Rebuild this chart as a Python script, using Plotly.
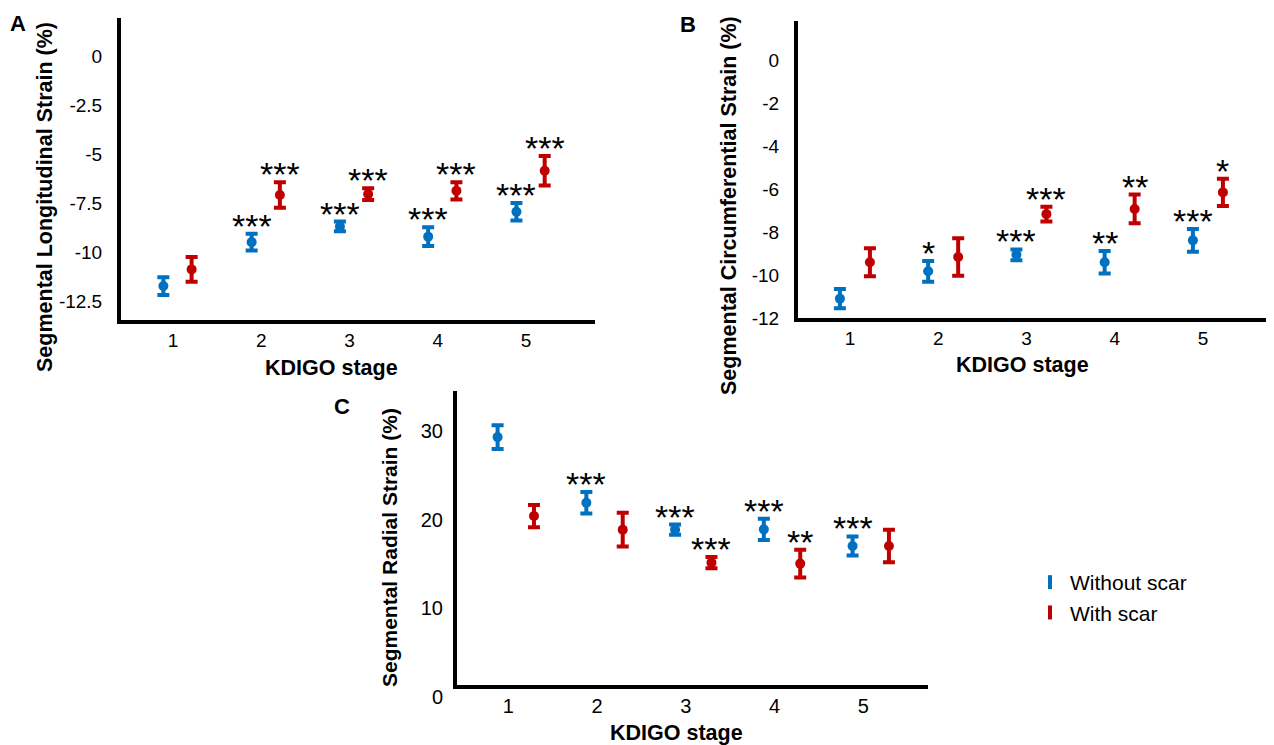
import plotly.graph_objects as go

# page body has an 8px default margin; the figure is sized to fit inside it
PAGE_MARGIN = 8
W, H = 1274 - PAGE_MARGIN, 745 - PAGE_MARGIN

stages = [1, 2, 3, 4, 5]
stage_labels = ["1", "2", "3", "4", "5"]

# Panel A: Segmental Longitudinal Strain (%)
A_wo_mean = [-11.7, -9.46, -8.66, -9.18, -7.91]
A_wo_err = [0.45, 0.43, 0.25, 0.48, 0.45]
A_w_mean = [-10.85, -7.06, -7.01, -6.84, -5.82]
A_w_err = [0.63, 0.65, 0.30, 0.44, 0.75]
A_wo_sig = ["", "***", "***", "***", "***"]
A_w_sig = ["", "***", "***", "***", "***"]

# Panel B: Segmental Circumferential Strain (%)
B_wo_mean = [-11.1, -9.83, -9.06, -9.41, -8.39]
B_wo_err = [0.45, 0.48, 0.25, 0.52, 0.53]
B_w_mean = [-9.41, -9.16, -7.17, -6.93, -6.16]
B_w_err = [0.65, 0.87, 0.34, 0.67, 0.63]
B_wo_sig = ["", "*", "***", "**", "***"]
B_w_sig = ["", "", "***", "**", "*"]

# Panel C: Segmental Radial Strain (%)
C_wo_mean = [29.3, 21.9, 18.87, 18.9, 17.03]
C_wo_err = [1.35, 1.2, 0.57, 1.2, 1.07]
C_w_mean = [20.4, 18.87, 15.15, 15.04, 17.03]
C_w_err = [1.25, 1.9, 0.64, 1.57, 1.83]
C_wo_sig = ["", "***", "***", "***", "***"]
C_w_sig = ["", "", "***", "**", ""]

A_ticks = [0, -2.5, -5, -7.5, -10, -12.5]
A_tick_text = ["0", "-2.5", "-5", "-7.5", "-10", "-12.5"]
B_ticks = [0, -2, -4, -6, -8, -10, -12]
C_ticks = [0, 10, 20, 30]

BLUE = "#0070C0"
RED = "#C00000"
FONT = "Liberation Sans, Arial, sans-serif"


def px_x(p):
    return (p - PAGE_MARGIN) / W


def px_y(p):
    return 1 - (p - PAGE_MARGIN) / H


panels = [
    dict(key="", wo=(A_wo_mean, A_wo_err, A_wo_sig), w=(A_w_mean, A_w_err, A_w_sig),
         xdom=[px_x(121), px_x(595)], ydom=[px_y(320), px_y(18)],
         xr=[0.41, 5.78], yr=[-13.43, 1.97], yt=A_ticks, ytt=A_tick_text,
         off_wo=-0.11, off_w=0.21, tickfont=19),
    dict(key="2", wo=(B_wo_mean, B_wo_err, B_wo_sig), w=(B_w_mean, B_w_err, B_w_sig),
         xdom=[px_x(798), px_x(1271)], ydom=[px_y(318), px_y(21)],
         xr=[0.41, 5.77], yr=[-12, 1.81], yt=B_ticks, ytt=[str(v) for v in B_ticks],
         off_wo=-0.115, off_w=0.225, tickfont=19),
    dict(key="3", wo=(C_wo_mean, C_wo_err, C_wo_sig), w=(C_w_mean, C_w_err, C_w_sig),
         xdom=[px_x(455), px_x(928)], ydom=[px_y(697), px_y(391)],
         xr=[0.40, 5.73], yr=[0, 34.5], yt=C_ticks, ytt=[str(v) for v in C_ticks],
         off_wo=-0.12, off_w=0.29, tickfont=20),
]

fig = go.Figure()
annotations = []

for p in panels:
    k = p["key"]
    xa = "x" + k
    ya = "y" + k
    for (mean, err, sig), off, col in ((p["wo"], p["off_wo"], BLUE), (p["w"], p["off_w"], RED)):
        xs = [s + off for s in stages]
        fig.add_trace(go.Scatter(
            x=xs, y=mean, mode="markers", xaxis=xa, yaxis=ya, showlegend=False,
            marker=dict(color=col, size=10, symbol="circle"),
            error_y=dict(type="data", array=err, visible=True, color=col,
                         thickness=4, width=6),
            hoverinfo="skip",
        ))
        for xv, m, e, s in zip(xs, mean, err, sig):
            if s:
                annotations.append(dict(
                    x=xv, y=m + e, xref=xa, yref=ya, text=s, showarrow=False,
                    yanchor="bottom", xanchor="center", yshift=-13,
                    font=dict(family=FONT, size=34, color="black"),
                ))

# legend entries
for name, col in (("Without scar", BLUE), ("With scar", RED)):
    fig.add_trace(go.Scatter(
        x=[None], y=[None], mode="markers", name=name,
        marker=dict(symbol="line-ns", size=10, color=col, line=dict(color=col, width=4)),
    ))

axis_common = dict(showgrid=False, zeroline=False, ticks="", showline=True,
                   linecolor="black", linewidth=4, automargin=False)

layout_axes = {}
for p in panels:
    k = p["key"]
    xname = "xaxis" + k
    yname = "yaxis" + k
    xa = dict(axis_common, domain=p["xdom"], range=p["xr"], tickvals=stages,
              ticktext=stage_labels, anchor="y" + k, ticklabelstandoff=0,
              tickfont=dict(family=FONT, size=p["tickfont"], color="black"))
    ya = dict(axis_common, domain=p["ydom"], range=p["yr"], tickvals=p["yt"],
              ticktext=p["ytt"], anchor="x" + k, ticklabelstandoff=11,
              tickfont=dict(family=FONT, size=p["tickfont"], color="black"))
    if k == "3":
        xa["anchor"] = "free"
        xa["position"] = px_y(687)
        ya["showline"] = False
    layout_axes[xname] = xa
    layout_axes[yname] = ya

# axis titles and panel letters
texts = [
    ("KDIGO stage", 331, 368, 0, 21.5),
    ("KDIGO stage", 1022, 365, 0, 21.5),
    ("KDIGO stage", 676, 733, 0, 21.5),
    ("Segmental Longitudinal Strain (%)", 45, 197, -90, 21.5),
    ("Segmental Circumferential Strain (%)", 729, 206, -90, 21.5),
    ("Segmental Radial Strain (%)", 389, 548, -90, 21),
    ("A", 18, 23, 0, 22),
    ("B", 688, 24, 0, 22),
    ("C", 342, 406, 0, 22),
]
for t, x, y, ang, sz in texts:
    annotations.append(dict(
        x=px_x(x), y=px_y(y), xref="paper", yref="paper", text="<b>" + t + "</b>",
        showarrow=False, textangle=ang, xanchor="center", yanchor="middle",
        font=dict(family=FONT, size=sz, color="black"),
    ))

shapes = [dict(type="line", xref="x3 domain", yref="paper", x0=0, x1=0,
               y0=px_y(689), y1=px_y(391), line=dict(color="black", width=4))]

fig.update_layout(
    width=W, height=H, margin=dict(l=0, r=0, t=0, b=0, autoexpand=False),
    paper_bgcolor="white", plot_bgcolor="white",
    showlegend=True,
    legend=dict(x=px_x(1030), y=px_y(562), xanchor="left", yanchor="top",
                font=dict(family=FONT, size=21, color="black"),
                bgcolor="rgba(0,0,0,0)", itemwidth=30, tracegroupgap=0),
    annotations=annotations, shapes=shapes,
    **layout_axes,
)

fig.write_html("out.html")
